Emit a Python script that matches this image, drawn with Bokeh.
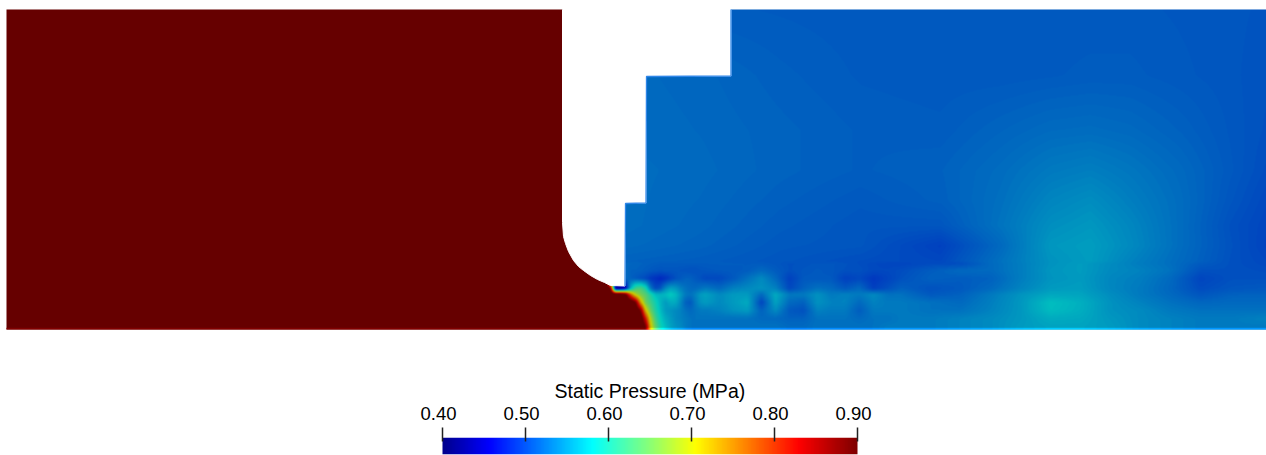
import numpy as np
from bokeh.embed import file_html
from bokeh.resources import INLINE
from bokeh.layouts import column
from bokeh.models import FixedTicker, LinearAxis, LinearColorMapper, NumeralTickFormatter, Range1d, Title
from bokeh.plotting import figure

# Static pressure (MPa) at sparse stations.
# x / y stations are in the reference's picture coordinates.
INLET_PRESSURE = 0.95

UPPER_X = [625, 700, 780, 860, 940, 1000, 1050, 1090, 1130, 1180, 1230, 1266]
UPPER_Y = [9, 75, 130, 170, 200, 225, 245, 262]
U009 = [.518, .512, .511, .510, .510, .510, .510, .510, .510, .509, .508, .507]
U075 = [.520, .518, .514, .511, .510, .510, .511, .512, .512, .510, .508, .506]
U130 = [.521, .519, .516, .513, .512, .517, .521, .522, .520, .515, .509, .505]
U170 = [.522, .520, .516, .513, .515, .522, .530, .533, .528, .520, .510, .503]
U200 = [.522, .519, .514, .510, .514, .524, .537, .542, .533, .522, .508, .500]
U225 = [.522, .518, .512, .508, .508, .526, .543, .548, .538, .522, .505, .498]
U245 = [.520, .516, .510, .508, .495, .520, .548, .552, .540, .522, .506, .497]
U262 = [.515, .512, .508, .503, .500, .525, .545, .551, .535, .520, .505, .500]

LOWER_X = [605, 610, 615, 620, 625, 630, 635, 640, 645, 650, 655, 660, 665, 670, 675,
           680, 685, 690, 695, 700, 705,
           719, 733, 747, 761, 775, 789, 803, 817, 831, 845, 859, 873, 887, 901,
           930, 960, 990, 1020, 1050, 1080, 1110, 1140, 1170, 1200, 1230, 1266]
LOWER_Y = [262, 270, 278, 288, 294, 302, 310, 318, 326]
L262 = [.52, .52, .52, .52, .52, .518, .517, .516, .515, .514, .513, .512, .512, .512, .512,
        .512, .512, .512, .512, .512, .512,
        .512, .512, .511, .510, .508, .505, .506, .508, .508, .506, .503, .500, .498, .497,
        .500, .500, .520, .532, .545, .551, .541, .531, .523, .512, .505, .500]
L270 = [.95, .52, .52, .52, .52, .515, .515, .514, .512, .510, .508, .507, .508, .508, .508,
        .507, .506, .505, .505, .507, .508,
        .510, .510, .512, .520, .512, .505, .508, .510, .508, .505, .505, .500, .500, .503,
        .512, .520, .520, .532, .547, .551, .540, .535, .525, .505, .505, .503]
L278 = [.95, .52, .52, .52, .52, .515, .510, .505, .500, .490, .485, .480, .485, .495, .505,
        .510, .515, .515, .510, .505, .500,
        .500, .510, .525, .540, .520, .495, .510, .510, .510, .495, .500, .490, .497, .505,
        .515, .512, .515, .532, .546, .550, .538, .532, .520, .498, .505, .505]
L288 = [.95, .90, .42, .42, .45, .56, .62, .63, .60, .53, .50, .51, .54, .555, .55,
        .535, .525, .52, .52, .525, .53,
        .520, .535, .540, .545, .535, .500, .515, .525, .520, .510, .520, .495, .505, .515,
        .505, .510, .520, .536, .550, .552, .538, .530, .518, .502, .508, .510]
L294 = [.95, .95, .95, .95, .92, .78, .69, .655, .635, .60, .57, .565, .57, .58, .57,
        .55, .53, .525, .535, .55, .555,
        .540, .550, .550, .520, .560, .530, .530, .545, .530, .535, .530, .540, .525, .525,
        .510, .515, .530, .546, .558, .556, .542, .530, .520, .508, .515, .515]
L302 = [.95, .95, .95, .95, .95, .95, .90, .74, .65, .62, .59, .565, .55, .56, .56,
        .54, .515, .51, .53, .545, .55,
        .540, .550, .560, .497, .555, .520, .515, .545, .535, .535, .520, .535, .530, .530,
        .525, .520, .533, .548, .572, .563, .545, .535, .525, .518, .520, .520]
L310 = [.95, .95, .95, .95, .95, .95, .95, .89, .72, .645, .60, .57, .55, .545, .54,
        .535, .525, .52, .525, .53, .53,
        .535, .545, .550, .515, .540, .510, .505, .535, .530, .530, .512, .530, .530, .530,
        .525, .525, .535, .548, .570, .562, .545, .540, .530, .525, .525, .525]
L318 = [.95, .95, .95, .95, .95, .95, .95, .95, .82, .69, .62, .58, .56, .55, .54,
        .535, .53, .525, .525, .525, .525,
        .525, .525, .525, .520, .520, .515, .515, .525, .525, .525, .520, .525, .525, .530,
        .530, .535, .540, .548, .560, .558, .548, .540, .535, .530, .530, .535]
L326 = [.95, .95, .95, .95, .95, .95, .95, .95, .90, .72, .64, .59, .57, .555, .545,
        .54, .53, .525, .525, .525, .525,
        .525, .525, .525, .525, .525, .520, .520, .525, .525, .525, .525, .525, .530, .530,
        .530, .535, .540, .550, .555, .555, .550, .540, .535, .530, .530, .530]

# Outline of the white cut-out between the inlet block and the outlet block.
VOID_X = [562, 562, 563, 565, 568, 573, 578, 583, 590, 597, 604, 610, 624.5, 625, 645.5, 646, 730.5, 730.5]
VOID_Y = [9, 222, 236, 243, 251, 260, 266, 270, 275, 279, 282, 285, 285.5, 203, 202.5, 76, 75.5, 9]
EDGE_X = [624.5, 625, 645.5, 646, 730.5, 730.5]
EDGE_Y = [285.5, 203, 202.5, 76, 75.5, 9]

CBAR_TITLE = "Static Pressure (MPa)"
CBAR_TICKS = [0.4, 0.5, 0.6, 0.7, 0.8, 0.9]
P_LOW, P_HIGH = 0.4, 0.9

# Colour map of the reference's scale bar, and the darker shade it takes on the shaded field.
STOP_T = [0, .11, .36, .49, .61, .86, 1]
STOP_R = [0, 0, 0, 128, 255, 255, 128]
STOP_G = [0, 0, 255, 255, 255, 0, 0]
STOP_B = [143, 255, 255, 128, 0, 0, 0]
FIELD_SHADE = (0.8, 0.8, 0.75)
BAR_SHADE = (1.0, 1.0, 1.0)

FIG_W, FIELD_H, BAR_H = 1266, 340, 115
ORIGIN_X = 0  # picture x of the figures' left edge
ORIGIN_Y = 0  # picture y of the field figure's top edge
BAR_LEFT, BAR_RIGHT = 442, 857
LABEL_SHIFT_PX = 4
TITLE_LEFT = 554


def palette(shade):
    t = np.linspace(0, 1, 256)
    rgb = [np.interp(t, STOP_T, c) * s for c, s in zip((STOP_R, STOP_G, STOP_B), shade)]
    return ["#%02x%02x%02x" % (int(r), int(g), int(b)) for r, g, b in zip(*rgb)]


def shade_between(xs, ys, rows, px, py):
    """Smooth shading of a pressure contour plot between the stations read above."""
    along_x = np.array([np.interp(px, xs, row) for row in rows])
    return np.array([np.interp(py, ys, along_x[:, j]) for j in range(len(px))]).T


def soften(a, n=3):
    kernel = np.ones(n) / n
    a = np.apply_along_axis(lambda r: np.convolve(np.pad(r, n, mode="edge"), kernel, "same")[n:-n], 1, a)
    return np.apply_along_axis(lambda r: np.convolve(np.pad(r, n, mode="edge"), kernel, "same")[n:-n], 0, a)


px = np.arange(6, 1266) + 0.5
py = np.arange(9, 329) + 0.5
upper = shade_between(UPPER_X, UPPER_Y, [U009, U075, U130, U170, U200, U225, U245, U262], px, py)
upper[:, px < 604] = INLET_PRESSURE
lower_rows = [L262, L270, L278, L288, L294, L302, L310, L318, L326]
lower = shade_between(LOWER_X, LOWER_Y, lower_rows, px, py)
lower[:, px < 605] = INLET_PRESSURE
field = np.where(py[:, None] < 262, upper, lower)
field = soften(field)
edge_row = field[-3:-2, :]

field_mapper = LinearColorMapper(palette=palette(FIELD_SHADE), low=P_LOW, high=P_HIGH)
bright_mapper = LinearColorMapper(palette=palette(BAR_SHADE), low=P_LOW, high=P_HIGH)

# y on this figure counts upward from the picture row ORIGIN_Y + FIELD_H
to_up = lambda y: ORIGIN_Y + FIELD_H - y

p = figure(width=FIG_W, height=FIELD_H, output_backend="svg", toolbar_location=None,
           x_range=Range1d(ORIGIN_X, ORIGIN_X + FIG_W), y_range=Range1d(0, FIELD_H),
           min_border=0, outline_line_color=None)
p.axis.visible = False
p.grid.visible = False
p.image(image=[field[::-1]], x=6, y=to_up(329), dw=1260, dh=320, color_mapper=field_mapper)
p.image(image=[edge_row], x=6, y=to_up(329), dw=1260, dh=1.7, color_mapper=bright_mapper)
p.patch(VOID_X, [to_up(y) for y in VOID_Y], fill_color="white", line_color="white", line_width=1)
p.line(EDGE_X, [to_up(y) for y in EDGE_Y], line_color="#2f86e8", line_width=1.3)

mpa_per_px = (P_HIGH - P_LOW) / (BAR_RIGHT - BAR_LEFT)
x_start = P_LOW - (BAR_LEFT - ORIGIN_X) * mpa_per_px
x_end = P_HIGH + (ORIGIN_X + FIG_W - BAR_RIGHT) * mpa_per_px
bar = figure(width=FIG_W, height=BAR_H, output_backend="svg", toolbar_location=None,
             x_range=Range1d(x_start, x_end),
             y_range=Range1d(0, 1), x_axis_location="above",
             min_border_left=0, min_border_right=0, min_border_top=97, min_border_bottom=1,
             outline_line_color=None)
bar.yaxis.visible = False
bar.grid.visible = False
bar.image(image=[np.linspace(P_LOW, P_HIGH, 415)[None, :]], x=P_LOW, y=0, dw=P_HIGH - P_LOW, dh=1,
          color_mapper=bright_mapper)

# Tick marks on the bar's own scale.
ax = bar.xaxis[0]
ax.ticker = FixedTicker(ticks=CBAR_TICKS)
ax.major_label_overrides = {t: "" for t in CBAR_TICKS}
ax.axis_line_color = None
ax.minor_tick_line_color = None
ax.major_tick_line_color = "#222222"
ax.major_tick_line_width = 1.5
ax.major_tick_out = 10
ax.major_tick_in = 4
ax.major_label_standoff = 0

# The reference's numerals sit a little to the left of their ticks.
bar.extra_x_ranges["numerals"] = Range1d(x_start + LABEL_SHIFT_PX * mpa_per_px, x_end + LABEL_SHIFT_PX * mpa_per_px)
numerals = LinearAxis(x_range_name="numerals", ticker=FixedTicker(ticks=CBAR_TICKS),
                      formatter=NumeralTickFormatter(format="0.00"),
                      axis_line_color=None, minor_tick_line_color=None, major_tick_line_color=None,
                      major_tick_out=0, major_tick_in=0, major_label_standoff=8,
                      major_label_text_font="Liberation Sans", major_label_text_font_size="18.5px",
                      major_label_text_color="#000000")
bar.add_layout(numerals, "above")
bar.add_layout(Title(text=CBAR_TITLE, align="left", offset=TITLE_LEFT, standoff=4,
                     text_font="Liberation Sans", text_font_style="normal", text_font_size="19.5px",
                     text_color="#000000"), "above")

page = column(p, bar, spacing=0)
open("out.html", "w").write(file_html(page, INLINE))
